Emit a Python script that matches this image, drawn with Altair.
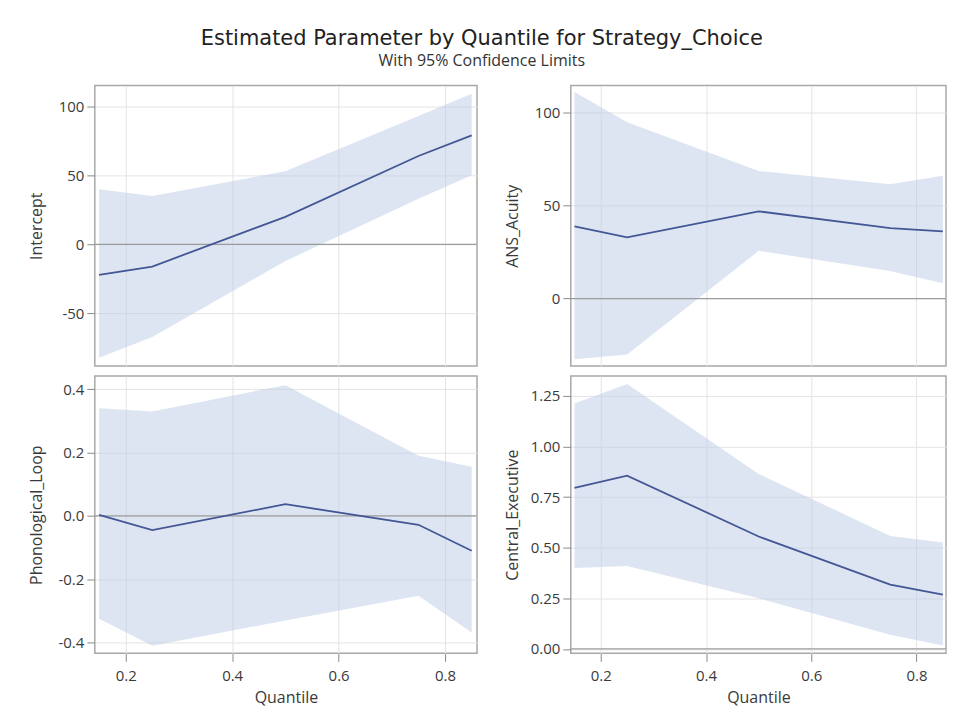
import altair as alt
import pandas as pd

quantiles = [0.15, 0.25, 0.50, 0.75, 0.85]

intercept_est = [-22.0, -16.0, 20.0, 64.0, 79.0]
intercept_lo = [-82.0, -67.0, -12.0, 33.0, 50.0]
intercept_hi = [40.0, 35.0, 53.0, 93.0, 109.0]

ans_est = [38.7, 32.8, 46.8, 37.8, 36.0]
ans_lo = [-32.6, -30.0, 25.6, 14.8, 8.2]
ans_hi = [110.9, 94.6, 68.5, 61.4, 65.9]

phon_est = [0.003, -0.045, 0.037, -0.028, -0.110]
phon_lo = [-0.325, -0.410, -0.330, -0.252, -0.368]
phon_hi = [0.340, 0.330, 0.413, 0.190, 0.155]

ce_est = [0.795, 0.856, 0.555, 0.318, 0.268]
ce_lo = [0.400, 0.410, 0.250, 0.070, 0.017]
ce_hi = [1.212, 1.308, 0.864, 0.558, 0.525]

FONT = "Open Sans"
MINUS_FIX = "replace(datum.label, '\u2212', '-')"


def panel(est, lo, hi, name, ydomain, yticks, yfmt, bottom, w, h, xdom):
    df = pd.DataFrame({"Quantile": quantiles, "est": est, "lo": lo, "hi": hi})
    xscale = alt.Scale(domain=xdom, nice=False, zero=False)
    if bottom:
        xaxis = alt.Axis(values=[0.2, 0.4, 0.6, 0.8], format=".1f", title="Quantile",
                         tickSize=8, labelPadding=7, titlePadding=6)
    else:
        xaxis = alt.Axis(values=[0.2, 0.4, 0.6, 0.8], labels=False, ticks=False, title=None)
    yscale = alt.Scale(domain=ydomain, nice=False, zero=False)
    yaxis = alt.Axis(values=yticks, format=yfmt, title=name, labelExpr=MINUS_FIX,
                     tickSize=8, labelPadding=3, minExtent=42, maxExtent=42, titlePadding=8)
    base = alt.Chart(df)
    band = base.mark_area(color="#bccbe8", opacity=0.5).encode(
        x=alt.X("Quantile:Q", scale=xscale, axis=xaxis),
        y=alt.Y("lo:Q", scale=yscale, axis=yaxis),
        y2="hi:Q",
    )
    zero = alt.Chart(pd.DataFrame({"v": [0.0]})).mark_rule(color="#9c9c9c", strokeWidth=1.3).encode(
        y="v:Q"
    )
    line = base.mark_line(color="#445694", strokeWidth=1.8).encode(
        x="Quantile:Q", y="est:Q"
    )
    return alt.layer(band, zero, line).properties(width=w, height=h)


LDOM = [0.142, 0.86]
RDOM = [0.143, 0.856]
p1 = panel(intercept_est, intercept_lo, intercept_hi, "Intercept", [-88, 115], [-50, 0, 50, 100], "d", False, 383, 281, LDOM)
p2 = panel(ans_est, ans_lo, ans_hi, "ANS_Acuity", [-36.2, 114.3], [0, 50, 100], "d", False, 376, 281, RDOM)
p3 = panel(phon_est, phon_lo, phon_hi, "Phonological_Loop", [-0.434, 0.442], [-0.4, -0.2, 0.0, 0.2, 0.4], ".1f", True, 383, 278, LDOM)
p4 = panel(ce_est, ce_lo, ce_hi, "Central_Executive", [-0.022, 1.348], [0, 0.25, 0.5, 0.75, 1.0, 1.25], ".2f", True, 376, 278, RDOM)

chart = alt.vconcat(
    alt.hconcat(p1, p2, spacing=25),
    alt.hconcat(p3, p4, spacing=25),
    spacing=8,
).properties(
    title=alt.TitleParams(
        text="Estimated Parameter by Quantile for Strategy_Choice",
        subtitle="With 95% Confidence Limits",
        anchor="middle",
        font="DejaVu Sans",
        fontSize=21,
        fontWeight="normal",
        color="#222222",
        subtitleFont=FONT,
        subtitleFontSize=16,
        subtitleColor="#333333",
        subtitlePadding=4,
        offset=16,
        dx=-6,
    ),
    padding={"left": 20, "top": 19, "right": 0, "bottom": 0},
    background="white",
).configure_view(
    stroke="#a8a8a8", strokeWidth=1.5
).configure_axis(
    domain=False,
    gridColor="#e4e4e4",
    gridWidth=1,
    tickColor="#8a8a8a",
    labelFont=FONT,
    labelFontSize=15,
    labelColor="#3a3a3a",
    titleFont=FONT,
    titleFontSize=16,
    titleFontWeight="normal",
    titleColor="#3a3a3a",
)

chart.save("out.html", embed_options={"renderer": "svg", "actions": False})
